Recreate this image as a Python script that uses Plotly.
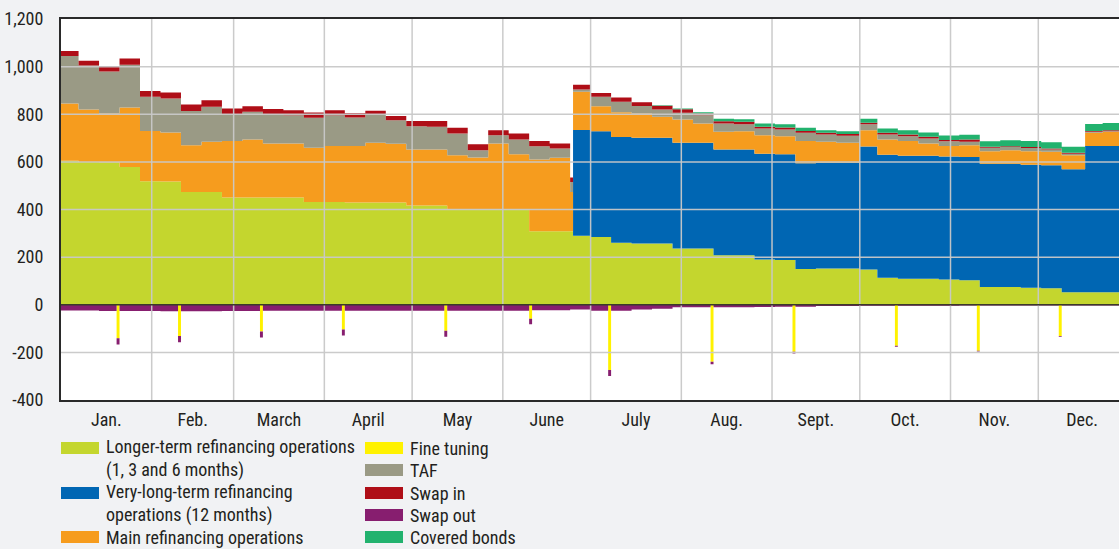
import pandas as pd
import plotly.graph_objects as go

# weekly step dates (value holds until the next date)
dates = [
    "2009-01-01", "2009-01-07", "2009-01-14", "2009-01-21", "2009-01-28",
    "2009-02-04", "2009-02-11", "2009-02-18", "2009-02-25",
    "2009-03-04", "2009-03-11", "2009-03-18", "2009-03-25",
    "2009-04-01", "2009-04-08", "2009-04-15", "2009-04-22", "2009-04-29",
    "2009-05-06", "2009-05-13", "2009-05-20", "2009-05-27",
    "2009-06-03", "2009-06-10", "2009-06-17", "2009-06-24", "2009-06-25",
    "2009-07-01", "2009-07-08", "2009-07-15", "2009-07-22", "2009-07-29",
    "2009-08-05", "2009-08-12", "2009-08-19", "2009-08-26",
    "2009-09-02", "2009-09-09", "2009-09-16", "2009-09-23",
    "2009-10-01", "2009-10-07", "2009-10-14", "2009-10-21", "2009-10-28",
    "2009-11-04", "2009-11-11", "2009-11-18", "2009-11-25",
    "2009-12-02", "2009-12-09", "2009-12-17", "2009-12-23", "2009-12-31",
]

# EUR billions
ltro = [605, 600, 598, 578, 519, 518, 473, 473, 450, 450, 450, 450, 431,
        431, 429, 429, 429, 417, 417, 401, 401, 401, 401, 309, 309, 309,
        290, 285, 260, 257, 257, 236, 236, 208, 208, 190, 188, 150, 152, 152,
        148, 113, 109, 109, 106, 103, 75, 75, 71, 69, 52, 52, 52, 52]
vltro = [0] * 26 + [444] * 14 + [517] * 11 + [615] * 3
mro = [240, 220, 205, 250, 211, 205, 197, 211, 238, 244, 227, 227, 228,
       236, 238, 251, 247, 235, 235, 227, 217, 276, 231, 301, 308, 165,
       161, 105, 104, 102, 88, 98, 81, 74, 77, 78, 76, 94, 88, 84,
       68, 64, 62, 51, 44, 50, 53, 57, 57, 56, 59, 55, 59, 59]
taf = [200, 185, 177, 180, 144, 143, 144, 147, 112, 116, 122, 119, 126,
       129, 119, 119, 99, 98, 95, 91, 31, 35, 62, 56, 39, 42,
       9, 39, 44, 32, 31, 28, 35, 35, 29, 28, 28, 34, 31, 30,
       25, 21, 20, 21, 20, 15, 14, 13, 13, 10, 6, 4, 3, 3]
swap_in = [21, 20, 23, 26, 24, 25, 27, 28, 24, 24, 23, 21, 22,
           21, 18, 16, 18, 22, 25, 24, 25, 21, 25, 22, 21, 18,
           20, 16, 18, 15, 16, 15, 7, 10, 10, 7, 8, 8, 7, 7,
           6, 7, 7, 7, 5, 9, 4, 4, 4, 4, 4, 4, 4, 4]
covered_bonds = [0] * 30 + [2, 3, 5, 10, 11, 14, 14, 13, 11, 12,
                            17, 18, 18, 18, 19, 20, 24, 25, 26, 26, 26, 29, 30, 30]

# liquidity-absorbing operations (plotted below zero)
fine_tuning_dates = ["2009-01-20", "2009-02-10", "2009-03-10", "2009-04-07",
                     "2009-05-12", "2009-06-10", "2009-07-07", "2009-08-11",
                     "2009-09-08", "2009-10-13", "2009-11-10", "2009-12-08"]
fine_tuning = [141, 131, 112, 104, 109, 59, 274, 239, 197, 172, 193, 131]
swap_out_dates = ["2009-01-01", "2009-01-14", "2009-02-04", "2009-02-25",
                  "2009-03-11", "2009-06-10", "2009-06-24", "2009-07-01",
                  "2009-07-15", "2009-07-22", "2009-07-29", "2009-08-26",
                  "2009-09-02", "2009-09-16", "2009-10-01", "2009-11-04",
                  "2009-12-02", "2009-12-31"]
swap_out = [24, 26, 27, 26, 25, 23, 20, 25, 20, 17, 11, 9, 8, 5, 4, 3, 3, 3]

month_names = {"Jan": "Jan.", "Feb": "Feb.", "Mar": "March", "Apr": "April",
               "Jun": "June", "Jul": "July", "Aug": "Aug.", "Sep": "Sept.",
               "Oct": "Oct.", "Nov": "Nov.", "Dec": "Dec."}
y_ticks = [-400, -200, 0, 200, 400, 600, 800, 1000, 1200]

colors = {
    "ltro": "#c4d62e", "vltro": "#0066b3", "mro": "#f69c1e", "fine": "#fff200",
    "taf": "#9a9a85", "swap_in": "#af0e17", "swap_out": "#871e6f", "cb": "#22b26e",
}

FONT = "Liberation Sans Narrow, Arial Narrow, Roboto Condensed, Roboto, sans-serif"

# negative side on a shared date grid (spikes last one day)
ft_idx = pd.to_datetime(fine_tuning_dates)
so_idx = pd.to_datetime(swap_out_dates)
neg_x = sorted(set(so_idx) | set(ft_idx) | set(ft_idx + pd.Timedelta(days=1)))
so_vals = pd.Series(swap_out, index=so_idx).reindex(neg_x, method="ffill")
ft_vals = pd.Series(fine_tuning, index=ft_idx).reindex(neg_x).fillna(0)

fig = go.Figure()

for name, vals, key in [("LTRO", ltro, "ltro"), ("VLTRO", vltro, "vltro"),
                        ("MRO", mro, "mro"), ("TAF", taf, "taf"),
                        ("Swap in", swap_in, "swap_in"),
                        ("Covered bonds", covered_bonds, "cb")]:
    fig.add_trace(go.Scatter(
        x=dates, y=vals, name=name, stackgroup="pos", mode="lines",
        line=dict(width=0, shape="hv"), fillcolor=colors[key]))

fig.add_trace(go.Scatter(
    x=neg_x, y=[-v for v in ft_vals], name="Fine tuning", stackgroup="neg",
    mode="lines", line=dict(width=0, shape="hv"), fillcolor=colors["fine"]))
fig.add_trace(go.Scatter(
    x=neg_x, y=[-v for v in so_vals], name="Swap out", stackgroup="neg",
    mode="lines", line=dict(width=0, shape="hv"), fillcolor=colors["swap_out"]))

# gridlines drawn above the areas, as in the original
grid = dict(color="rgba(200,200,200,0.95)", width=1.5)
for m in pd.date_range("2009-02-01", "2009-12-01", freq="MS"):
    fig.add_shape(type="line", xref="x", yref="paper", x0=m, x1=m, y0=0, y1=1,
                  line=grid, layer="above")
for t in y_ticks[1:-1]:
    if t != 0:
        fig.add_shape(type="line", xref="paper", yref="y", x0=0, x1=1, y0=t, y1=t,
                      line=grid, layer="above")
fig.add_shape(type="line", xref="paper", yref="y", x0=0, x1=1, y0=0, y1=0,
              line=dict(color="#3a3a2a", width=1.5), layer="above")

# legend built by hand: wide swatches in two columns
L, W, T, H = 61, 1058, 19, 381


def px(x):
    return (x - L) / W


def py(y):
    return (T + H - y) / H


legend_items = [
    (61, 448, colors["ltro"], "Longer-term refinancing operations<br>(1, 3 and 6 months)"),
    (61, 493, colors["vltro"], "Very-long-term refinancing<br>operations (12 months)"),
    (61, 537, colors["mro"], "Main refinancing operations"),
    (365, 448, colors["fine"], "Fine tuning"),
    (365, 470, colors["taf"], "TAF"),
    (365, 493, colors["swap_in"], "Swap in"),
    (365, 515, colors["swap_out"], "Swap out"),
    (365, 537, colors["cb"], "Covered bonds"),
]
for x0, yc, col, text in legend_items:
    fig.add_shape(type="rect", xref="paper", yref="paper",
                  x0=px(x0), x1=px(x0 + 38), y0=py(yc + 6), y1=py(yc - 6),
                  fillcolor=col, line=dict(width=0))
    top = yc - 12.5 if "<br>" in text else yc - 11.5
    fig.add_annotation(xref="paper", yref="paper", x=px(x0 + 44),
                       y=py(top), text=text, showarrow=False,
                       xanchor="left", yanchor="top", align="left",
                       borderpad=0,
                       font=dict(size=18, color="#231f20", family=FONT))

fig.update_layout(
    width=1119, height=549,
    margin=dict(l=L, r=0, t=T, b=549 - T - H),
    paper_bgcolor="#f1f2f4", plot_bgcolor="white",
    font=dict(family=FONT, size=18, color="#231f20"),
    showlegend=False,
)
fig.update_xaxes(
    type="date", range=["2009-01-01", "2009-12-28 14:00"],
    tick0="2009-01-01", dtick="M1", ticklabelmode="period", tickformat="%b",
    labelalias=month_names, ticks="", showgrid=False,
    showline=True, linecolor="#2a2a2a", linewidth=2, mirror=True,
    ticklabelstandoff=2,
)
fig.update_yaxes(
    range=[-400, 1200], tickvals=y_ticks,
    ticktext=[f"{v:,}" for v in y_ticks], showgrid=False, zeroline=False,
    showline=True, linecolor="#2a2a2a", linewidth=2, ticks="",
    ticklabelstandoff=12,
)

fig.write_html("out.html", config={"displayModeBar": False},
               post_script="document.body.style.margin='0';")
